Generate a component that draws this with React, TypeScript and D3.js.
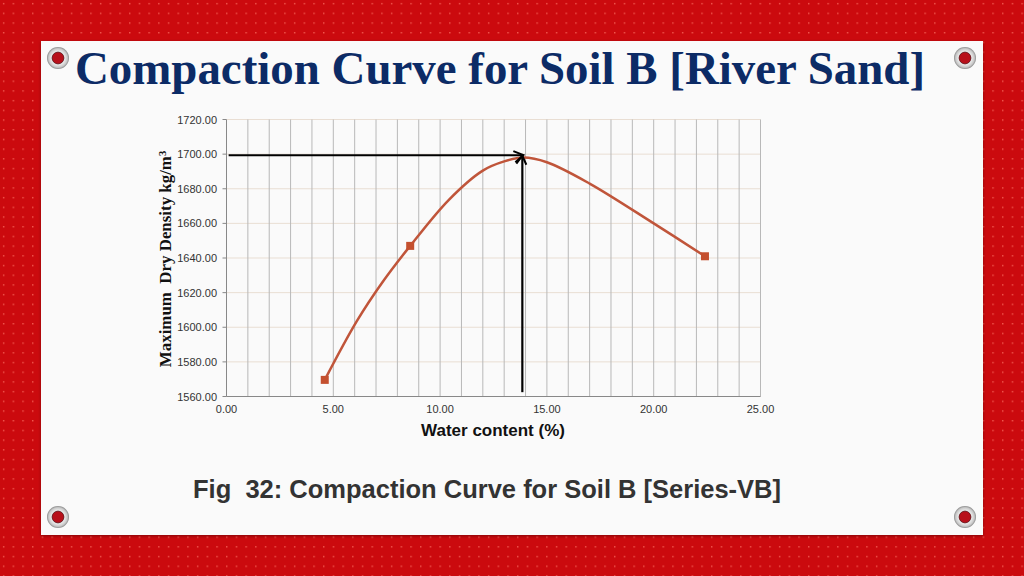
import React from 'react';
import * as d3 from 'd3';

// markers that show in the picture
const markerWater = [4.6, 8.6, 22.4];
const markerDensity = [1569.6, 1647, 1641];
// the smoothed line
const curveWater = [4.6, 6.1, 7.3, 8.6, 10.4, 12, 13, 13.9, 15, 17, 20, 22.4];
const curveDensity = [1569.6, 1603.5, 1626, 1647, 1673.5, 1690.5, 1695.8, 1698, 1695.3, 1683, 1660, 1641];
const yTicks = [1560, 1580, 1600, 1620, 1640, 1660, 1680, 1700, 1720];
const xTicks = [0, 5, 10, 15, 20, 25];
const xGrid = d3.range(0, 26);
const arrowH = { x: [0.1, 13.9], y: [1699.4, 1699.4] };
const arrowV = { x: [13.85, 13.85], y: [1562.5, 1698.5] };
const rivets = [
  [58, 58],
  [965, 58],
  [58, 517],
  [965, 517],
];

const width = 1024;
const height = 576;
const plot = { left: 226.5, right: 760.5, top: 119.5, bottom: 396.5 };

const App = () => {
  const x = d3.scaleLinear().domain([0, 25]).range([plot.left, plot.right]);
  const y = d3.scaleLinear().domain([1560, 1720]).range([plot.bottom, plot.top]);
  const curvePoints = curveWater.map((w, i) => [x(w), y(curveDensity[i])] as [number, number]);
  const curve = d3.line().curve(d3.curveCatmullRom.alpha(0.5))(curvePoints) as string;
  const line = d3.line();
  const hLine = line(arrowH.x.map((v, i) => [x(v), y(arrowH.y[i])] as [number, number])) as string;
  const vLine = line(arrowV.x.map((v, i) => [x(v), y(arrowV.y[i])] as [number, number])) as string;
  const tickFont = 'Liberation Sans';

  return (
    <svg
      width={width}
      height={height}
      style={{ position: 'fixed', left: 0, top: 0, display: 'block' }}
    >
      <defs>
        <pattern id="dots" width={9.7} height={9.7} patternUnits="userSpaceOnUse">
          <rect x={3} y={3} width={1.3} height={1.3} fill="#f8675c" />
        </pattern>
        <radialGradient id="rivet">
          <stop offset="45%" stopColor="#777777" />
          <stop offset="62%" stopColor="#e8e8e8" />
          <stop offset="85%" stopColor="#c8c8c8" />
          <stop offset="100%" stopColor="#8a8a8a" />
        </radialGradient>
        <filter id="shadow" x="-5%" y="-5%" width="110%" height="110%">
          <feDropShadow dx={0} dy={1} stdDeviation={1.5} floodColor="#500" floodOpacity={0.6} />
        </filter>
      </defs>

      <rect width={width} height={height} fill="#cb0a0e" />
      <rect width={width} height={height} fill="url(#dots)" />
      <rect x={41} y={41} width={942} height={494} fill="#fafafa" filter="url(#shadow)" />

      {rivets.map(([cx, cy]) => (
        <g key={`${cx}-${cy}`}>
          <circle cx={cx} cy={cy} r={11} fill="url(#rivet)" />
          <circle cx={cx} cy={cy} r={5.8} fill="#b8101a" stroke="#70131a" strokeWidth={0.8} />
        </g>
      ))}

      <text
        x={500}
        y={84}
        textAnchor="middle"
        fontFamily="Liberation Serif"
        fontWeight="bold"
        fontSize={46.9}
        fill="#0c2b66"
      >
        Compaction Curve for Soil B [River Sand]
      </text>

      {yTicks.map((t) => (
        <g key={t}>
          <line x1={plot.left} x2={plot.right} y1={y(t)} y2={y(t)} stroke="#e9ded3" strokeWidth={1} />
          <line x1={plot.left - 4} x2={plot.left} y1={y(t)} y2={y(t)} stroke="#888" strokeWidth={1} />
          <text
            x={217}
            y={y(t) + 4}
            textAnchor="end"
            fontFamily={tickFont}
            fontSize={11}
            fill="#333"
          >
            {t.toFixed(2)}
          </text>
        </g>
      ))}
      {xGrid.map((t) => (
        <line
          key={t}
          x1={x(t)}
          x2={x(t)}
          y1={plot.top}
          y2={plot.bottom}
          stroke={t === 0 ? '#888' : '#b8b8b8'}
          strokeWidth={1}
        />
      ))}
      <line x1={plot.left} x2={plot.right} y1={plot.bottom} y2={plot.bottom} stroke="#888" strokeWidth={1} />
      {xTicks.map((t) => (
        <text
          key={t}
          x={x(t)}
          y={413}
          textAnchor="middle"
          fontFamily={tickFont}
          fontSize={11}
          fill="#333"
        >
          {t.toFixed(2)}
        </text>
      ))}

      <path d={curve} fill="none" stroke="#c0553a" strokeWidth={2.5} />
      {markerWater.map((w, i) => (
        <rect
          key={w}
          x={x(w) - 4}
          y={y(markerDensity[i]) - 4}
          width={8}
          height={8}
          fill="#c4502f"
        />
      ))}

      <path d={hLine} stroke="#000" strokeWidth={2} fill="none" />
      <path d={vLine} stroke="#000" strokeWidth={2.2} fill="none" />
      <path
        d={d3.line()([
          [x(13.85) - 9, y(1699.4) - 4],
          [x(13.85) + 1, y(1699.4)],
          [x(13.85) - 7, y(1699.4) + 7],
        ]) as string}
        stroke="#000"
        strokeWidth={2}
        fill="none"
      />
      <path
        d={d3.line()([
          [x(13.85) - 6, y(1698.5) + 7],
          [x(13.85), y(1698.5) - 1],
          [x(13.85) + 4, y(1698.5) + 8],
        ]) as string}
        stroke="#000"
        strokeWidth={2}
        fill="none"
      />

      <text
        transform="translate(171,259) rotate(-90)"
        textAnchor="middle"
        fontFamily="Liberation Serif"
        fontWeight="bold"
        fontSize={16.9}
        fill="#111"
        xmlSpace="preserve"
      >
        Maximum  Dry Density kg/m<tspan dy={-5} fontSize={10.5}>3</tspan>
      </text>
      <text
        x={493}
        y={436}
        textAnchor="middle"
        fontFamily={tickFont}
        fontWeight="bold"
        fontSize={17}
        fill="#111"
      >
        Water content (%)
      </text>
      <text
        x={193}
        y={498}
        fontFamily={tickFont}
        fontWeight="bold"
        fontSize={25.5}
        fill="#333"
        xmlSpace="preserve"
      >
        Fig  32: Compaction Curve for Soil B [Series-VB]
      </text>
    </svg>
  );
};

export default App;
